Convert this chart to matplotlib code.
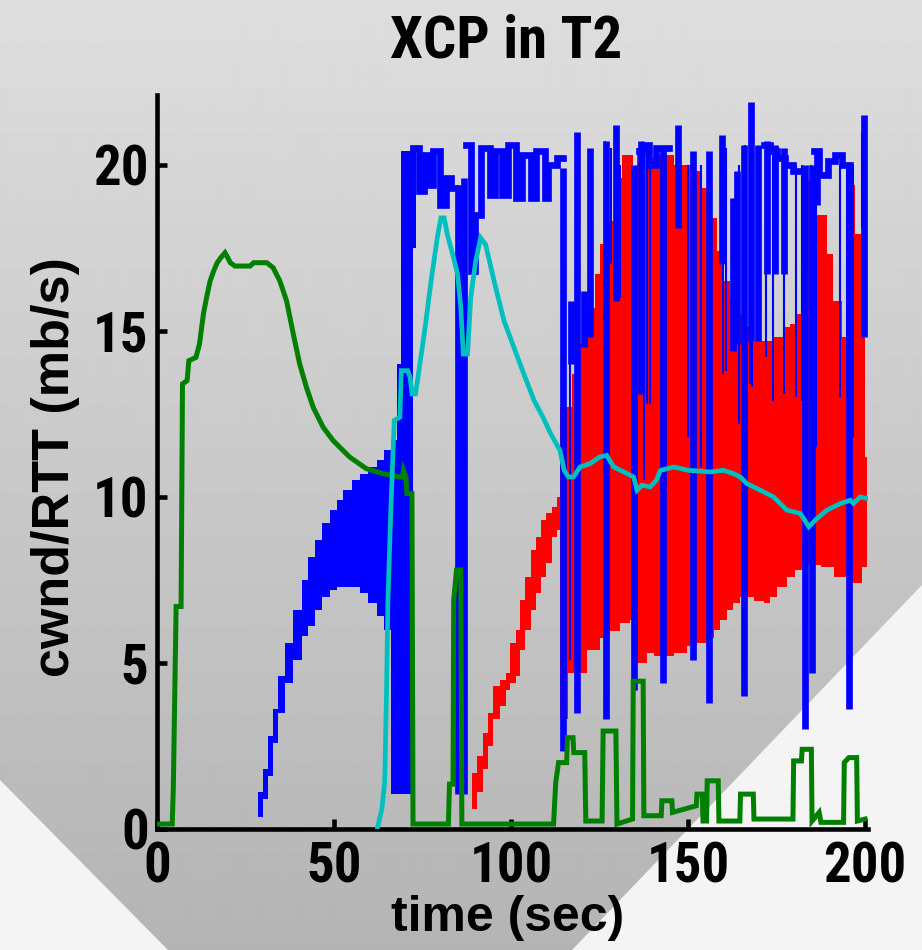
import numpy as np
import matplotlib
matplotlib.use("Agg")
import matplotlib.pyplot as plt
from matplotlib import font_manager as fm
from matplotlib.patches import Polygon
from matplotlib.textpath import TextPath

nan = np.nan

# green flow (t, cwnd/RTT)
green_t = [0.0, 4.3, 4.6, 5.4, 6.8, 7.2, 8.5, 9.0, 11.0, 12.0, 13.1, 14.0, 15.0, 16.0, 17.0,
           18.0, 19.2, 20.0, 20.7, 22.0, 26.3, 27.3, 31.0, 32.8, 34.7, 36.6, 38.5, 40.3, 42.2,
           44.1, 46.9, 49.7, 54.4, 59.1, 63.8, 68.5, 69.3, 69.6, 70.3, 70.6, 72.0, 72.3, 82.3,
           82.6, 83.6, 83.8, 84.6, 85.8, 86.1, 112.0, 112.6, 113.4, 115.7, 115.9, 117.5, 117.7,
           120.8, 121.1, 125.7, 126.0, 129.6, 129.9, 134.3, 134.5, 137.3, 137.5, 142.4, 142.6,
           145.4, 145.6, 152.3, 152.5, 154.0, 154.2, 155.2, 155.4, 158.5, 158.7, 164.6, 164.8,
           168.4, 168.6, 179.6, 179.8, 182.0, 182.2, 184.8, 185.0, 187.0, 187.5, 193.9, 194.1,
           195.4, 197.6, 197.8, 200.0]
green_v = [0.15, 0.15, 1.2, 6.7, 6.7, 13.4, 13.5, 14.1, 14.2, 14.6, 15.5, 16.0, 16.5, 16.8, 17.05,
           17.2, 17.35, 17.2, 17.05, 16.95, 16.95, 17.05, 17.05, 16.9, 16.5, 15.9, 14.9, 14.0, 13.3,
           12.7, 12.1, 11.7, 11.2, 10.85, 10.7, 10.6, 10.6, 10.8, 10.6, 10.1, 10.1, 0.15, 0.15,
           1.35, 1.35, 6.9, 7.8, 7.8, 0.15, 0.15, 1.4, 2.0, 2.0, 2.75, 2.75, 2.3,
           2.3, 0.24, 0.24, 2.95, 2.95, 0.15, 0.3, 4.45, 4.45, 0.4, 0.4, 0.85,
           0.85, 0.5, 0.7, 1.05, 1.05, 0.24, 0.24, 1.45, 1.45, 0.24, 0.24, 1.05,
           1.05, 0.3, 0.3, 2.05, 2.05, 2.4, 2.4, 0.24, 0.5, 0.2, 0.2, 2.0,
           2.15, 2.15, 0.24, 0.3]

# cyan flow
cyan_t = [62.2, 63.5, 64.3, 64.8, 65.2, 66.0, 67.0, 68.6, 69.0, 70.8, 71.5, 72.0, 73.0, 73.7,
          75.6, 77.4, 79.3, 80.2, 81.1, 82.0, 83.5, 84.9, 85.8, 86.5, 87.7, 88.6, 90.0, 91.4,
          92.8, 95.2, 98.0, 100.8, 103.6, 106.5, 109.0, 111.2, 113.8, 115.0, 116.2, 117.6,
          119.5, 122.3, 125.0, 127.0, 129.0, 132.8, 134.6, 135.6, 137.0, 139.3, 141.0, 142.2,
          146.0, 150.0, 156.2, 160.0, 162.8, 164.7, 166.6, 170.4, 174.1, 177.9, 181.7, 184.1,
          186.4, 189.2, 193.0, 195.8, 196.7, 198.6, 200.5]
cyan_v = [0.0, 0.6, 1.4, 4.0, 6.8, 9.5, 12.3, 12.4, 13.8, 13.8, 13.6, 13.1, 13.1, 13.6,
          15.0, 16.5, 17.9, 18.4, 18.4, 17.9, 17.3, 16.7, 15.7, 14.3, 14.3, 16.0, 17.1, 17.8,
          17.6, 16.5, 15.3, 14.5, 13.7, 12.9, 12.4, 11.9, 11.4, 10.8, 10.6, 10.6,
          10.9, 11.0, 11.2, 11.25, 10.9, 10.7, 10.6, 10.2, 10.35, 10.3, 10.5, 10.8,
          10.9, 10.8, 10.75, 10.8, 10.7, 10.6, 10.4, 10.2, 10.0, 9.6, 9.5, 9.1,
          9.35, 9.6, 9.8, 9.9, 9.8, 10.0, 9.95]

# red flow: upper / lower envelope (step)
red_hi_t = [89.0, 90.5, 92.0, 93.5, 95.0, 96.9, 98.5, 99.7, 101.5, 102.5, 104.0, 105.5, 107.0,
            108.5, 110.0, 111.5, 113.0, 113.8, 117.1, 119.0, 120.9, 123.7, 125.1, 127.0, 129.4,
            131.3, 134.5, 135.5, 138.8, 141.2, 145.9, 151.5, 153.4, 156.2, 158.1, 159.5, 161.9,
            163.8, 166.1, 167.5, 172.2, 174.1, 176.9, 178.8, 180.7, 182.6, 184.5, 186.4, 189.2,
            191.0, 193.4, 195.3, 197.2, 199.1, 200.0]
red_hi = [1.7, 2.2, 2.9, 3.5, 4.3, 4.5, 4.7, 5.6, 6.0, 6.9, 7.6, 8.4, 8.8,
          9.3, 9.5, 9.7, 10.0, 12.7, 13.7, 14.6, 15.7, 16.7, 17.6, 18.3, 19.6,
          20.3, 19.2, 20.5, 20.2, 20.3, 20.0, 19.8, 19.3, 18.4, 17.4, 16.5, 16.0,
          15.5, 15.1, 14.7, 14.7, 14.8, 15.1, 15.2, 15.5, 19.5, 19.1, 18.5, 17.3,
          15.9, 14.8, 19.4, 17.9, 16.4, 11.2]
red_lo_t = [89.0, 90.5, 92.0, 93.5, 95.0, 96.9, 98.5, 99.7, 101.5, 102.5, 104.0, 105.5, 107.0,
            108.5, 110.0, 111.5, 113.0, 113.8, 116.1, 121.4, 125.1, 128.0, 130.8, 133.6, 135.5,
            138.4, 140.3, 145.9, 149.6, 152.5, 155.3, 157.2, 159.1, 161.0, 162.8, 164.7, 168.5,
            171.4, 173.2, 175.1, 177.9, 180.3, 182.6, 184.1, 187.4, 191.1, 193.5, 196.3, 199.1]
red_lo = [0.6, 1.1, 1.8, 2.5, 3.3, 3.7, 4.2, 4.4, 4.6, 5.4, 6.0, 6.6, 7.1,
          7.6, 8.0, 8.8, 9.0, 3.3, 4.7, 5.4, 5.75, 5.95, 6.2, 6.3, 5.0,
          5.3, 5.2, 5.3, 5.5, 5.6, 5.75, 6.0, 6.3, 6.6, 6.8, 7.0, 6.85,
          6.8, 7.0, 7.3, 7.6, 7.8, 8.0, 7.95, 7.9, 7.6, 7.6, 7.4, 7.9]
red_end = 200.5

# blue flow: early oscillating band (step)
blue_band_t = [28.6, 29.9, 31.4, 32.8, 34.2, 36.1, 38.5, 40.9, 42.7, 44.6, 46.5, 48.9, 50.8,
               52.6, 55.0, 57.3, 59.7, 62.1, 64.2, 66.0, 67.8, 69.0, 72.3]
blue_band_lo = [0.35, 0.9, 1.6, 2.6, 3.5, 4.4, 5.1, 5.8, 6.1, 6.6, 7.0, 7.2, 7.3,
                7.3, 7.3, 7.1, 6.8, 6.4, 6.0, 1.05, 1.05, 1.05, 17.5]
blue_band_hi = [1.1, 1.8, 2.8, 3.6, 4.6, 5.6, 6.6, 7.5, 8.2, 8.7, 9.2, 9.6, 9.9,
                10.2, 10.5, 10.7, 10.9, 11.1, 11.4, 11.7, 14.0, 20.4, 20.5]
blue_band_end = 73.2

# blue flow: top level (step, nan = gap)
blue_top_t = [72.3, 74.0, 75.5, 77.0, 78.0, 80.0, 81.5, 83.0, 84.4, 87.4, 88.8, 89.8, 91.5,
              94.0, 95.5, 97.5, 99.0, 101.5, 103.0, 105.5, 107.0, 109.5, 110.5, 113.0, 114.8,
              136.0, 137.5, 139.0, 141.0, 144.5, 171.4, 173.0, 175.0, 177.5, 179.5, 182.5,
              185.5, 187.0, 189.5, 191.5, 193.5]
blue_top = [20.5, 19.2, 20.3, 19.4, 20.4, 18.8, 19.6, 19.3, nan, 20.6, 16.8, 18.5, 20.5,
            19.1, 20.4, 19.1, 20.6, 19.0, 20.3, 19.0, 20.4, 19.0, 20.0, 20.2, nan,
            20.4, 20.6, 20.0, 20.5, nan, 20.6, 20.4, 20.2, 20.0, 19.8, nan,
            20.4, 19.7, 20.1, 20.3, 20.0]
blue_top_end = 195.8

# blue flow: wide drops / bursts (t, low, high)
blue_bar_t = [85.0, 86.6, 114.8, 117.0, 118.6, 120.5, 122.3, 126.8, 129.6, 134.8, 136.6, 143.0,
              147.0, 151.3, 156.0, 159.6, 162.6, 163.8, 165.8, 167.8, 169.6, 172.2, 174.5,
              177.0, 183.0, 185.0, 186.5, 195.3, 199.6]
blue_bar_lo = [1.05, 1.05, 2.35, 14.0, 3.5, 14.5, 14.8, 3.3, 15.9, 4.2, 13.1, 4.4,
               18.1, 5.1, 3.8, 17.0, 14.4, 14.6, 4.0, 14.7, 14.7, 16.7, 16.7,
               16.7, 3.0, 4.7, 18.8, 3.6, 14.8]
blue_bar_hi = [19.4, 19.6, 19.9, 15.9, 21.0, 16.2, 20.5, 20.7, 21.2, 20.0, 20.7, 20.5,
               21.2, 20.4, 20.4, 20.9, 19.0, 19.8, 20.6, 21.9, 20.6, 20.7, 20.6,
               20.5, 20.0, 20.0, 20.4, 20.0, 21.5]

# blue flow: thin drops (t, low, high)
blue_thin_t = [116.6, 126.6, 128.3, 130.2, 130.7, 137.4, 138.5, 139.2, 143.5, 150.0, 152.0,
               153.7, 159.9, 160.8, 164.5, 166.0, 167.5, 167.9, 172.0, 174.0, 177.0, 180.4,
               182.3, 184.8, 186.0, 192.8, 194.9, 196.5, 199.0]
blue_thin_lo = [5.1, 3.3, 17.0, 16.1, 16.0, 10.5, 12.8, 12.8, 10.1, 11.8, 12.9,
                10.9, 13.7, 13.8, 12.2, 12.2, 13.4, 13.3, 14.2, 12.9, 13.1, 13.0,
                12.9, 11.5, 11.5, 13.0, 13.2, 11.8, 18.1]
blue_thin_hi = [15.5, 20.7, 20.5, 21.0, 20.0, 20.4, 20.3, 20.0, 20.5, 20.0, 20.2,
                20.0, 20.0, 20.5, 20.0, 20.6, 20.0, 20.6, 20.5, 20.5, 20.3, 20.0,
                20.0, 20.0, 20.3, 20.0, 20.0, 20.0, 21.0]

x_ticks = [0, 50, 100, 150, 200]
y_ticks = [0, 5, 10, 15, 20]


def stairs(t, v, t_end):
    x = np.repeat(np.append(t, t_end), 2)[1:-1]
    y = np.repeat(v, 2)
    return x, y


# pick the bold sans face whose digits are as narrow as in the original
# ("200" about 77 px wide for 40 px tall)
sans = ("liberation sans", "dejavu sans", "noto sans", "roboto", "open sans", "lato", "inter")
best = None
for f in fm.fontManager.ttflist:
    nm = f.name.lower()
    fn = f.fname.lower()
    if not nm.startswith(sans) or "cjk" in nm or "mono" in nm or f.style != "normal":
        continue
    w = f.weight if isinstance(f.weight, int) else {"bold": 700, "heavy": 800, "black": 900,
                                                     "semibold": 600, "demibold": 600}.get(str(f.weight).lower(), 400)
    if w < 700 or w > 800:
        continue
    try:
        bb = TextPath((0, 0), "200", prop=fm.FontProperties(fname=f.fname), size=100).get_extents()
    except Exception:
        continue
    score = abs(bb.width / bb.height - 77 / 40)
    if best is None or score < best[0]:
        best = (score, f.fname, bb.height / 100)

if best:
    cap = best[2]
    tick_fp = fm.FontProperties(fname=best[1], size=40 * 0.72 / cap)
    title_fp = fm.FontProperties(fname=best[1], size=43 * 0.72 / cap)
else:
    tick_fp = fm.FontProperties(family="Liberation Sans", weight="bold", size=34)
    title_fp = fm.FontProperties(family="Liberation Sans", weight="bold", size=37)

fig = plt.figure(figsize=(9.22, 9.5), dpi=100)

# background: grey gradient with light corners
bg = fig.add_axes([0, 0, 1, 1])
bg.axis("off")
shade = np.linspace(222, 180, 950)
img = np.repeat(shade[:, None], 922, axis=1)
bg.imshow(img, cmap="gray", vmin=0, vmax=255, extent=[0, 922, 950, 0], aspect="auto")
bg.add_patch(Polygon([[0, 780], [168, 950], [0, 950]], color="#f4f4f4", lw=0))
bg.add_patch(Polygon([[922, 585], [922, 950], [572, 950]], color="#f4f4f4", lw=0))
bg.set_xlim(0, 922)
bg.set_ylim(950, 0)

ax = fig.add_axes([157 / 922, 121 / 950, 711 / 922, 734 / 950])
ax.set_facecolor("none")

# red band
xu, yu = stairs(red_hi_t, red_hi, red_end)
xl, yl = stairs(red_lo_t, red_lo, red_end)
ax.fill(np.concatenate([xu, xl[::-1]]), np.concatenate([yu, yl[::-1]]),
        color="#ff0000", lw=0, zorder=1)

# blue
bxl, byl = stairs(blue_band_t, blue_band_lo, blue_band_end)
bxh, byh = stairs(blue_band_t, blue_band_hi, blue_band_end)
ax.fill(np.concatenate([bxh, bxl[::-1]]), np.concatenate([byh, byl[::-1]]),
        color="#0000ff", lw=0, zorder=2)
tx, ty = stairs(blue_top_t, blue_top, blue_top_end)
ax.plot(tx, ty, color="#0000ff", lw=4.8, solid_joinstyle="miter", zorder=2)
ax.vlines(blue_bar_t, blue_bar_lo, blue_bar_hi, color="#0000ff", lw=4.8, zorder=2)
ax.vlines(blue_thin_t, blue_thin_lo, blue_thin_hi, color="#0000ff", lw=1.5, zorder=2)

# green and cyan
ax.plot(green_t, green_v, color="#008000", lw=3.6, solid_joinstyle="miter", zorder=3)
ax.plot(cyan_t, cyan_v, color="#00bfbf", lw=3.4, solid_joinstyle="miter", zorder=4)

ax.set_xlim(0, 200.8)
ax.set_ylim(0, 22.1)
ax.set_xticks(x_ticks)
ax.set_yticks(y_ticks)
for s in ["top", "right"]:
    ax.spines[s].set_visible(False)
for s in ["left", "bottom"]:
    ax.spines[s].set_linewidth(3.3)
ax.tick_params(direction="in", length=7.5, width=3.3)
ax.tick_params(axis="x", pad=9)
ax.tick_params(axis="y", pad=6)
for lab in ax.get_xticklabels() + ax.get_yticklabels():
    lab.set_fontproperties(tick_fp)

ax.set_title("XCP in T2", fontproperties=title_fp, pad=27, x=0.491)
ax.set_xlabel("time (sec)", family="Liberation Sans", fontweight="bold", fontsize=36)
ax.set_ylabel("cwnd/RTT (mb/s)", family="Liberation Sans", fontweight="bold", fontsize=37.5)
ax.xaxis.set_label_coords(0.4925, -0.09)
ax.yaxis.set_label_coords(-0.108, 0.493)

fig.savefig("out.png", dpi=100)
